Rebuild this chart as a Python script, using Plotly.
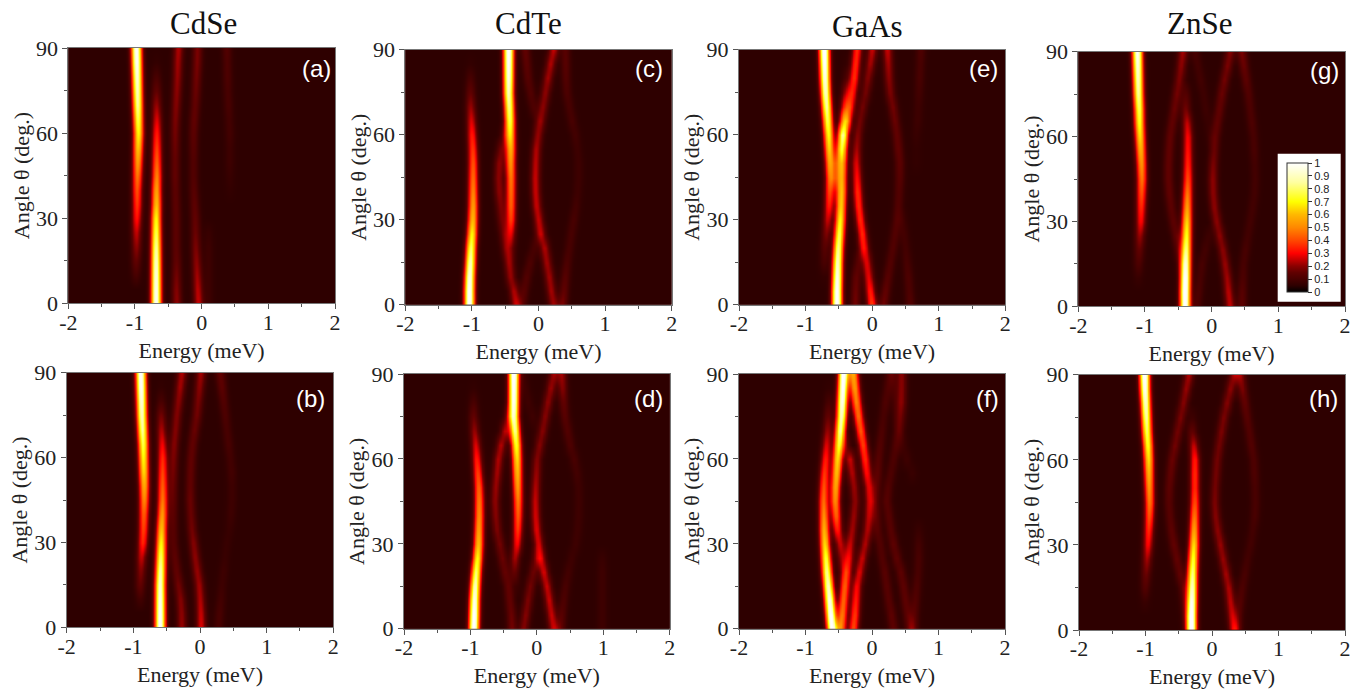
import numpy as np
import plotly.graph_objects as go

W, H = 1359, 692
ANGLES = list(range(0, 95, 5))
ENERGY_TICKS = [-2, -1, 0, 1, 2]
ANGLE_TICKS = [0, 30, 60, 90]
CBAR_TICKS = [0, .1, .2, .3, .4, .5, .6, .7, .8, .9, 1]
COLUMNS = ["CdSe", "CdTe", "GaAs", "ZnSe"]
TAGS = ["(a)", "(b)", "(c)", "(d)", "(e)", "(f)", "(g)", "(h)"]
BACKGROUND = 0.05
LINE_SIGMA = 0.052

# Ridge energies (meV) and intensities, one list per ridge, at each angle in ANGLES
E_A = [
 [-.985,-.985,-.985,-.985,-.98,-.98,-.975,-.97,-.97,-.965,-.96,-.955,-.95,-.955,-.96,-.965,-.97,-.975,-.98],
 [-.685,-.685,-.685,-.685,-.685,-.685,-.685,-.68,-.68,-.675,-.675,-.675,-.675,-.675,-.68,-.68,-.68,-.68,-.68],
 [-.375,-.38,-.38,-.38,-.385,-.385,-.385,-.39,-.395,-.4,-.4,-.4,-.4,-.395,-.385,-.375,-.365,-.36,-.35],
 [-.05,-.06,-.07,-.08,-.09,-.095,-.1,-.11,-.12,-.125,-.125,-.125,-.125,-.115,-.1,-.09,-.08,-.07,-.065],
 [.1,.1,.1,.1,.1,.1,.1,.42,.42,.42,.42,.42,.42,.41,.4,.39,.385,.38,.375],
]
A_A = [
 [0,0,.05,.1,.15,.2,.27,.32,.36,.42,.5,.58,.65,.72,.8,.85,.9,.95,.97],
 [.95,.93,.9,.86,.8,.72,.65,.56,.5,.44,.38,.33,.28,.22,.16,.1,.05,.01,0],
 [.15,.14,.12,.1,.09,.09,.09,.09,.09,.1,.1,.11,.12,.13,.14,.15,.16,.17,.18],
 [.2,.19,.17,.15,.13,.11,.1,.09,.08,.07,.07,.08,.09,.1,.1,.11,.12,.13,.13],
 [.03,.03,.03,.03,.03,.02,0,0,.01,.02,.03,.03,.04,.04,.05,.05,.06,.06,.07],
]
E_B = [
 [-.9,-.9,-.9,-.9,-.89,-.88,-.86,-.85,-.845,-.84,-.84,-.845,-.85,-.855,-.865,-.875,-.88,-.885,-.89],
 [-.6,-.6,-.6,-.6,-.595,-.59,-.585,-.58,-.57,-.565,-.565,-.565,-.565,-.57,-.58,-.585,-.585,-.585,-.585],
 [-.275,-.28,-.295,-.325,-.355,-.38,-.4,-.405,-.41,-.41,-.41,-.405,-.4,-.39,-.37,-.35,-.325,-.3,-.275],
 [.015,.01,0,-.015,-.045,-.075,-.1,-.125,-.14,-.15,-.15,-.145,-.135,-.115,-.085,-.05,-.03,-.01,.01],
 [.275,.29,.31,.325,.35,.375,.4,.44,.46,.475,.475,.47,.45,.425,.4,.375,.35,.325,.3],
]
A_B = [
 [0,0,.04,.1,.14,.2,.3,.34,.38,.45,.52,.6,.65,.72,.8,.85,.9,.95,.97],
 [.97,.95,.92,.88,.82,.74,.65,.56,.48,.42,.38,.34,.3,.24,.18,.12,.05,.01,0],
 [.16,.15,.14,.12,.1,.09,.08,.08,.09,.1,.11,.12,.13,.14,.14,.14,.15,.17,.18],
 [.22,.2,.18,.17,.16,.15,.14,.12,.11,.11,.1,.1,.1,.1,.11,.12,.13,.15,.17],
 [.05,.05,.04,.03,.03,.02,.02,.02,.03,.03,.03,.04,.04,.05,.05,.06,.07,.09,.1],
]
E_C = [
 [-1.04,-1.04,-1.035,-1.025,-1.015,-1.0,-.99,-.985,-.985,-.985,-.985,-.99,-1.0,-1.01,-1.02,-1.025,-1.025,-1.025,-1.025],
 [-.42,-.42,-.42,-.42,-.42,-.42,-.415,-.415,-.415,-.415,-.42,-.42,-.425,-.43,-.44,-.45,-.45,-.45,-.45],
 [-.34,-.37,-.42,-.45,-.49,-.52,-.55,-.57,-.59,-.6,-.59,-.56,-.5,-.46,-.46,-.46,-.46,-.46,-.46],
 [.225,.19,.16,.125,.09,.035,0,-.03,-.045,-.05,-.045,-.035,-.01,.03,.065,.1,.14,.18,.225],
 [-.25,-.22,-.18,-.13,-.07,-.02,.02,.02,.02,.02,.02,.02,0,-.03,-.08,-.12,-.16,-.18,-.2],
 [.36,.38,.4,.425,.46,.49,.525,.56,.585,.6,.6,.58,.55,.5,.46,.425,.41,.405,.4],
]
A_C = [
 [1,.98,.92,.85,.75,.65,.55,.49,.44,.4,.36,.32,.28,.22,.16,.1,.05,.01,0],
 [0,0,.01,.05,.1,.22,.33,.38,.4,.42,.47,.53,.6,.68,.78,.85,.92,.96,1],
 [.2,.18,.15,.13,.13,.12,.12,.13,.15,.15,.15,.12,.1,.05,0,0,0,0,0],
 [.17,.17,.17,.17,.18,.19,.2,.2,.2,.2,.19,.18,.16,.15,.15,.15,.17,.18,.2],
 [.08,.08,.07,.06,.05,.03,0,0,0,0,0,0,0,.03,.06,.07,.08,.09,.1],
 [.13,.1,.08,.06,.05,.05,.05,.04,.03,.03,.03,.03,.04,.05,.05,.06,.07,.08,.08],
]
E_D = [
 [-.95,-.945,-.94,-.93,-.915,-.895,-.88,-.875,-.87,-.87,-.875,-.89,-.905,-.92,-.94,-.955,-.955,-.955,-.955],
 [-.3,-.3,-.3,-.3,-.34,-.33,-.3,-.29,-.285,-.285,-.29,-.295,-.3,-.31,-.33,-.35,-.35,-.35,-.35],
 [-.375,-.385,-.41,-.43,-.48,-.52,-.56,-.6,-.62,-.63,-.62,-.6,-.58,-.54,-.48,-.43,-.4,-.4,-.4],
 [.25,.22,.185,.15,.105,.06,.025,-.005,-.02,-.025,-.02,-.01,0,.04,.085,.125,.165,.21,.25],
 [.35,.37,.4,.43,.47,.52,.58,.61,.625,.63,.625,.6,.56,.5,.46,.42,.4,.385,.375],
 [-.2,-.17,-.135,-.1,-.055,-.015,0,0,0,0,0,0,0,0,-.03,-.07,-.13,-.18,-.22],
 [.98,.98,.98,.98,.98,.98,.98,.98,.98,.98,.98,.98,.98,.98,.98,.98,.98,.98,.98],
]
A_D = [
 [1,.98,.92,.85,.75,.65,.55,.49,.45,.42,.38,.33,.28,.22,.16,.1,.05,.01,0],
 [0,0,0,.02,.1,.17,.25,.32,.37,.42,.48,.54,.6,.68,.78,.85,.92,.96,1],
 [.12,.11,.1,.1,.1,.11,.12,.13,.14,.15,.16,.17,.18,.18,.18,.1,.02,0,0],
 [.2,.2,.2,.2,.21,.22,.22,.22,.21,.2,.18,.16,.14,.14,.14,.14,.15,.16,.16],
 [.1,.08,.06,.05,.04,.03,.03,.03,.03,.03,.03,.04,.05,.06,.07,.08,.1,.14,.16],
 [.14,.14,.13,.12,.11,.1,0,0,0,0,0,0,0,0,.01,.03,.03,.03,.03],
 [.03,.03,.03,.03,.03,.02,0,0,0,0,0,0,0,0,0,0,0,0,0],
]
E_E = [
 [-.73,-.73,-.73,-.72,-.71,-.69,-.67,-.65,-.64,-.63,-.635,-.645,-.655,-.67,-.685,-.7,-.71,-.715,-.72],
 [-.53,-.53,-.525,-.52,-.51,-.495,-.48,-.47,-.46,-.455,-.45,-.445,-.44,-.425,-.41,-.395,-.38,-.38,-.38],
 [-.005,-.03,-.055,-.08,-.12,-.15,-.18,-.205,-.22,-.23,-.24,-.235,-.22,-.185,-.145,-.1,-.065,-.03,0],
 [-.52,-.52,-.52,-.52,-.52,-.52,-.52,-.52,-.52,-.53,-.52,-.48,-.44,-.375,-.33,-.3,-.27,-.25,-.23],
 [.17,.2,.235,.27,.31,.34,.37,.39,.4,.41,.41,.39,.37,.34,.31,.27,.25,.24,.23],
 [.57,.555,.54,.52,.5,.475,.45,.45,.66,.66,.66,.66,.66,.68,.69,.7,.71,.72,.73],
 [-.255,-.25,-.24,-.21,-.17,-.14,-.12,-.12,-.12,-.12,-.12,-.12,-.12,-.12,-.12,-.12,-.12,-.12,-.12],
]
A_E = [
 [0,0,.01,.05,.08,.13,.2,.28,.34,.42,.5,.58,.65,.72,.8,.85,.9,.95,1],
 [1,.98,.92,.85,.78,.72,.65,.58,.52,.46,.45,.45,.45,.38,.25,.15,.05,.01,0],
 [.33,.28,.23,.22,.25,.28,.3,.3,.3,.26,.22,.17,.14,.12,.12,.12,.14,.17,.2],
 [0,0,0,0,0,0,0,0,.08,.18,.22,.28,.35,.3,.27,.27,.3,.3,.3],
 [.12,.1,.08,.07,.07,.07,.07,.07,.07,.08,.09,.1,.1,.11,.12,.13,.15,.17,.2],
 [.07,.06,.06,.05,.04,.04,.03,0,0,0,.01,.01,.02,.03,.03,.04,.05,.05,.06],
 [.12,.11,.1,.08,.05,.02,0,0,0,0,0,0,0,0,0,0,0,0,0],
]
E_F = [
 [-.6,-.62,-.64,-.66,-.68,-.695,-.71,-.72,-.725,-.73,-.725,-.715,-.7,-.685,-.67,-.66,-.65,-.65,-.65],
 [-.4,-.4,-.4,-.42,-.43,-.455,-.48,-.52,-.54,-.555,-.55,-.535,-.52,-.5,-.48,-.46,-.45,-.44,-.43],
 [-.28,-.26,-.245,-.23,-.19,-.15,-.105,-.07,-.05,-.04,-.05,-.08,-.105,-.135,-.17,-.205,-.235,-.26,-.28],
 [-.47,-.45,-.43,-.41,-.38,-.35,-.33,-.3,-.275,-.255,-.27,-.3,-.33,-.4,-.44,-.44,-.44,-.44,-.44],
 [.32,.29,.25,.22,.19,.15,.12,.08,.06,.045,.06,.08,.095,.12,.145,.17,.2,.235,.27],
 [.57,.535,.5,.47,.43,.37,.32,.28,.25,.22,.24,.28,.32,.36,.4,.43,.44,.445,.445],
 [.62,.63,.65,.67,.69,.7,.7,.7,.7,.7,.7,.6,.52,.46,.41,.37,.35,.335,.32],
]
A_F = [
 [1,.97,.92,.85,.78,.7,.6,.53,.46,.4,.36,.32,.28,.22,.16,.1,.05,.01,0],
 [0,0,.01,.03,.1,.15,.2,.28,.38,.45,.5,.55,.6,.68,.78,.85,.92,.96,1],
 [.35,.32,.28,.25,.22,.2,.18,.18,.19,.2,.22,.26,.3,.33,.37,.4,.44,.48,.5],
 [.45,.42,.38,.35,.28,.24,.2,.17,.16,.15,.16,.18,.2,.1,.03,0,0,0,0],
 [.09,.09,.08,.08,.08,.07,.07,.08,.09,.09,.09,.09,.08,.07,.06,.05,.06,.06,.07],
 [.1,.09,.09,.09,.09,.09,.09,.08,.08,.08,.07,.06,.06,.07,.08,.1,.14,.14,.14],
 [.09,.08,.07,.06,.05,.05,.04,.02,0,0,0,.02,.03,.03,.03,.04,.04,.05,.05],
]
E_G = [
 [-1.11,-1.11,-1.105,-1.1,-1.09,-1.08,-1.065,-1.06,-1.055,-1.05,-1.055,-1.065,-1.075,-1.085,-1.09,-1.1,-1.105,-1.11,-1.115],
 [-.4,-.4,-.395,-.39,-.385,-.38,-.375,-.37,-.365,-.36,-.36,-.36,-.36,-.37,-.39,-.39,-.39,-.39,-.39],
 [-.4,-.4,-.42,-.45,-.49,-.53,-.575,-.61,-.635,-.65,-.65,-.64,-.625,-.595,-.56,-.525,-.49,-.46,-.435],
 [.275,.25,.23,.2,.165,.12,.075,.04,.02,.015,.02,.035,.05,.08,.115,.15,.19,.235,.275],
 [.45,.455,.465,.475,.505,.54,.575,.61,.64,.65,.645,.635,.625,.6,.575,.55,.515,.48,.45],
 [-.225,-.2,-.175,-.15,-.1,-.05,-.02,-.02,-.02,-.02,-.02,-.02,-.025,-.06,-.09,-.125,-.17,-.21,-.25],
]
A_G = [
 [0,0,.02,.06,.1,.16,.25,.3,.36,.42,.47,.53,.6,.67,.73,.8,.85,.9,.95],
 [1,.98,.92,.85,.77,.68,.6,.5,.42,.35,.3,.27,.25,.2,.12,.07,.01,0,0],
 [0,.04,.08,.1,.1,.1,.09,.09,.1,.1,.1,.1,.1,.1,.11,.12,.13,.15,.17],
 [.2,.19,.17,.16,.15,.15,.15,.15,.15,.15,.13,.11,.1,.1,.1,.11,.12,.13,.14],
 [.09,.08,.06,.05,.05,.04,.04,.04,.04,.04,.04,.05,.05,.06,.06,.07,.09,.11,.13],
 [.06,.06,.05,.05,.04,.03,0,0,0,0,0,0,.02,.02,.03,.03,.04,.04,.05],
]
E_H = [
 [-1.01,-1.01,-1.01,-1.005,-.995,-.98,-.965,-.955,-.945,-.94,-.945,-.95,-.955,-.965,-.98,-.99,-1.0,-1.01,-1.015],
 [-.31,-.31,-.305,-.3,-.295,-.285,-.275,-.27,-.265,-.26,-.26,-.26,-.26,-.275,-.3,-.3,-.3,-.3,-.3],
 [-.375,-.39,-.41,-.43,-.48,-.53,-.575,-.61,-.635,-.65,-.645,-.625,-.6,-.56,-.52,-.475,-.43,-.39,-.35],
 [.325,.3,.275,.25,.21,.165,.125,.085,.055,.04,.045,.06,.075,.105,.14,.175,.225,.275,.325],
 [.375,.39,.42,.45,.49,.53,.575,.61,.64,.65,.645,.635,.625,.59,.56,.525,.49,.455,.425],
]
A_H = [
 [0,0,.02,.07,.11,.17,.25,.3,.36,.42,.47,.53,.6,.67,.73,.8,.86,.93,1],
 [1,.98,.93,.85,.77,.68,.6,.5,.42,.35,.3,.3,.28,.2,.1,.03,0,0,0],
 [.05,.07,.09,.1,.1,.1,.1,.09,.08,.08,.09,.1,.11,.12,.12,.13,.14,.16,.18],
 [.22,.2,.19,.18,.17,.16,.16,.15,.14,.13,.12,.12,.12,.12,.13,.13,.14,.15,.16],
 [.1,.08,.07,.06,.05,.04,.04,.04,.05,.05,.05,.06,.06,.07,.07,.08,.1,.13,.16],
]

# Pixel boxes of the panels: left, right, top, bottom
BOXES = {
 "(a)": (68.3, 335, 48, 303.3), "(b)": (66.7, 333.3, 372.7, 627.3),
 "(c)": (405.3, 671.7, 49.7, 304.7), "(d)": (404, 669.7, 374, 628.7),
 "(e)": (739, 1005.3, 49.7, 304.7), "(f)": (739, 1005, 374, 628.7),
 "(g)": (1078.3, 1345, 51.7, 306.3), "(h)": (1079, 1345, 374.7, 630),
}
TAG_POS = {"(a)": (316, 68), "(b)": (310, 398), "(c)": (649, 68), "(d)": (648, 398),
           "(e)": (983, 68), "(f)": (987, 398), "(g)": (1324, 70), "(h)": (1323, 398)}
TITLE_POS = [(203, 24), (528, 24), (867, 26), (1199, 24)]
RIDGES = {"(a)": (E_A, A_A), "(b)": (E_B, A_B), "(c)": (E_C, A_C), "(d)": (E_D, A_D),
          "(e)": (E_E, A_E), "(f)": (E_F, A_F), "(g)": (E_G, A_G), "(h)": (E_H, A_H)}

SCALE = [[0, "#000000"], [.05, "#2e0000"], [.1, "#480000"], [.15, "#600000"], [.2, "#8a0000"], [.3, "#ff0000"],
         [.4, "#ff4800"], [.5, "#ff8800"], [.6, "#ffb800"], [.7, "#ffff00"], [.85, "#ffffa0"], [1, "#ffffff"]]

SERIF = "Liberation Serif, Times New Roman, serif"
SANS = "Liberation Sans, Arial, sans-serif"
grid = np.linspace(-2, 2, 641)


def intensity(pos, amp):
    z = np.full((len(ANGLES), grid.size), BACKGROUND)
    for p_row, a_row in zip(pos, amp):
        for i, (p, a) in enumerate(zip(p_row, a_row)):
            z[i] += a * np.exp(-((grid - p) ** 2) / (2 * LINE_SIGMA ** 2))
    return np.clip(z, 0, 1)


fig = go.Figure()
for n, tag in enumerate(TAGS):
    l, r, t, b = BOXES[tag]
    pos, amp = RIDGES[tag]
    sfx = "" if n == 0 else str(n + 1)
    trace = dict(x=grid, y=ANGLES, z=intensity(pos, amp), zmin=0, zmax=1, zsmooth="best",
                 colorscale=SCALE, xaxis="x" + sfx, yaxis="y" + sfx, showscale=False,
                 hoverinfo="skip")
    if tag == "(g)":
        trace.update(showscale=True, colorbar=dict(
            x=1286.7 / W, xanchor="left", y=1 - 292 / H, yanchor="bottom",
            xref="paper", yref="paper", thicknessmode="pixels", thickness=20.6,
            lenmode="pixels", len=128.7, xpad=0, ypad=0, outlinecolor="#333333", outlinewidth=1,
            ticks="outside", ticklen=4, tickwidth=1, tickcolor="#333333",
            tickvals=CBAR_TICKS, ticktext=[f"{v:g}" for v in CBAR_TICKS],
            tickfont=dict(family=SANS, size=11, color="#222222")))
    fig.add_trace(go.Heatmap(**trace))
    axis_style = dict(showgrid=False, zeroline=False, showline=True, mirror=True, linecolor="#777777",
                      linewidth=1, ticks="outside", ticklen=5, tickwidth=1, tickcolor="#555555",
                      tickfont=dict(family=SERIF, size=22, color="#222222"), automargin=False)
    fig.layout["xaxis" + sfx] = dict(
        axis_style, domain=[l / W, r / W], range=[-2, 2], anchor="y" + sfx, ticklabelstandoff=-6,
        tickvals=ENERGY_TICKS, ticktext=[str(v) for v in ENERGY_TICKS],
        minor=dict(dtick=.5, tick0=-2, ticks="outside", ticklen=3, tickcolor="#555555"),
        title=dict(text="Energy (meV)", standoff=8, font=dict(family=SERIF, size=22, color="#222222")))
    fig.layout["yaxis" + sfx] = dict(
        axis_style, domain=[1 - b / H, 1 - t / H], range=[0, 90], anchor="x" + sfx,
        tickvals=ANGLE_TICKS, ticktext=[str(v) for v in ANGLE_TICKS],
        minor=dict(dtick=15, tick0=0, ticks="outside", ticklen=3, tickcolor="#555555"),
        title=dict(text="Angle θ (deg.)", standoff=0, font=dict(family=SERIF, size=22, color="#222222")))
    px, py = TAG_POS[tag]
    fig.add_annotation(x=px / W, y=1 - py / H, xref="paper", yref="paper", text=tag, showarrow=False,
                       xanchor="center", yanchor="middle",
                       font=dict(family=SANS, size=24, color="white"))

for name, (px, py) in zip(COLUMNS, TITLE_POS):
    fig.add_annotation(x=px / W, y=1 - py / H, xref="paper", yref="paper", text=name, showarrow=False,
                       xanchor="center", yanchor="middle",
                       font=dict(family=SERIF, size=31, color="#111111"))

fig.add_shape(type="rect", xref="paper", yref="paper", layer="above", fillcolor="white", line_width=0,
              x0=1277.7 / W, x1=1340.7 / W, y0=1 - 301.7 / H, y1=1 - 153.7 / H)

fig.update_layout(width=W, height=H, margin=dict(l=0, r=0, t=0, b=0), paper_bgcolor="white",
                  plot_bgcolor="#2e0000", showlegend=False)
fig.write_html("out.html", config={"displayModeBar": False}, post_script="document.body.style.margin='0';")
